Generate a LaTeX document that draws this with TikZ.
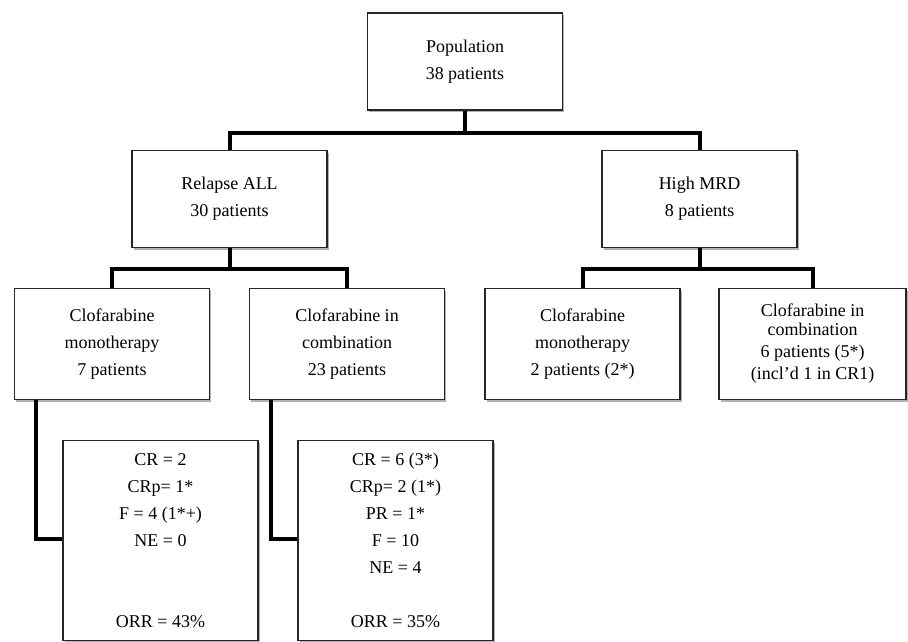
\documentclass[tikz,border=0pt]{standalone}
\usepackage{fontspec}
\setmainfont{Liberation Serif}
\usetikzlibrary{shadows}

\begin{document}
\begin{tikzpicture}[x=1pt, y=-1pt,
                    box/.style={draw=black!85, line width=1.6pt, fill=white, align=center, inner sep=0pt,
                                font=\fontsize{18}{27}\selectfont,
                                drop shadow={shadow xshift=1.5pt, shadow yshift=-2pt, fill=black!60, opacity=.5}},
                    top/.style={box, minimum width=195pt, minimum height=97pt},
                    arm/.style={box, minimum width=195pt, minimum height=111pt},
                    result/.style={box, minimum width=195pt, minimum height=200pt},
                    conn/.style={line width=4pt, black}]
\useasboundingbox (0,0) rectangle (908,642);

% cohorts
\node[top] (pop) at (465,61.5) {Population\\38 patients};
\node[top] (relapse) at (229.5,199) {Relapse ALL\\30 patients};
\node[top] (mrd) at (699.5,199) {High MRD\\8 patients};

% treatment arms
\node[arm] (mono1) at (112,344) {Clofarabine\\monotherapy\\7 patients};
\node[arm] (comb1) at (347,344) {Clofarabine in\\combination\\23 patients};
\node[arm] (mono2) at (582.5,344) {Clofarabine\\monotherapy\\2 patients (2*)};
\node[arm, minimum width=187pt] (comb2) at (812.5,344)
    {Clofarabine in\\[-8pt]combination\\[-5pt]6 patients (5*)\\[-5pt](incl’d 1 in CR1)};

% responses
\node[result] (res1) at (160.5,540.5)
    {CR = 2\\CRp= 1*\\F = 4 (1*+)\\NE = 0\\\mbox{}\\\mbox{}\\ORR = 43\%};
\node[result] (res2) at (395.5,540.5)
    {CR = 6 (3*)\\CRp= 2 (1*)\\PR = 1*\\F = 10\\NE = 4\\\mbox{}\\ORR = 35\%};

% connectors
\coordinate (j1) at (465,133);
\coordinate (j2) at (229.5,269);
\coordinate (j3) at (699.5,269);
\draw[conn] (pop.south) -- (j1);
\draw[conn] (relapse.north) |- (j1) -| (mrd.north);
\draw[conn] (relapse.south) -- (j2);
\draw[conn] (mono1.north) |- (j2) -| (comb1.north);
\draw[conn] (mrd.south) -- (j3);
\draw[conn] (mono2.north) |- (j3) -| (comb2.north);
\draw[conn] ([xshift=22pt]mono1.south west) |- ([yshift=2pt]res1.west);
\draw[conn] ([xshift=22pt]comb1.south west) |- ([yshift=2pt]res2.west);
\end{tikzpicture}
\end{document}
